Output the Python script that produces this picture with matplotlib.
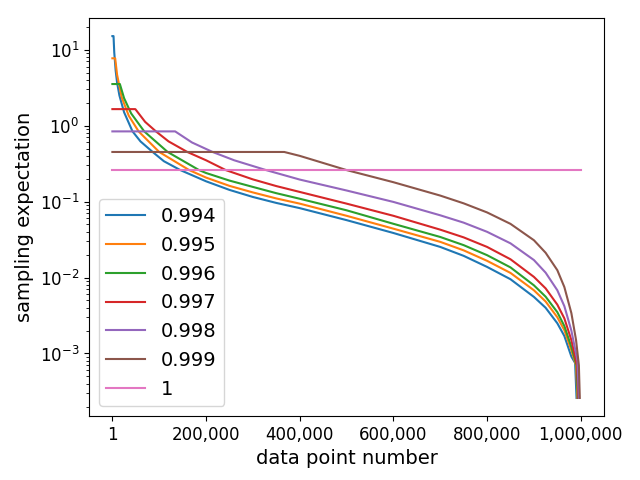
import matplotlib
matplotlib.use('Agg')
import matplotlib.pyplot as plt
from matplotlib.ticker import FuncFormatter

# valores (aproximados)
labels = ['0.994', '0.995', '0.996', '0.997', '0.998', '0.999', '1']

x_0994 = [1, 2450, 4000, 7000, 10000, 15000, 25000, 43000, 60000, 86000, 110000, 145000,
          200000, 250000, 300000, 350000, 400000, 500000, 600000, 700000, 750000, 800000,
          850000, 900000, 925000, 950000, 965000, 980000, 988000, 991000]
y_0994 = [15.1, 15.1, 9.2, 5.3, 3.7, 2.5, 1.5, 0.84, 0.62, 0.45, 0.34, 0.26,
          0.185, 0.1425, 0.115, 0.096, 0.082, 0.057, 0.0386, 0.0253, 0.0193, 0.0138,
          0.0095, 0.00556, 0.0040, 0.0025, 0.0017, 0.00091, 0.00075, 0.00026]

x_0995 = [1, 6000, 10000, 20000, 35000, 56000, 100000, 164000,
          200000, 250000, 300000, 350000, 400000, 500000, 600000, 700000, 750000, 800000,
          850000, 900000, 925000, 950000, 965000, 980000, 990000, 993000]
y_0995 = [7.7, 7.7, 4.7, 2.35, 1.35, 0.84, 0.45, 0.26,
          0.207, 0.161, 0.132, 0.110, 0.094, 0.065, 0.044, 0.0295, 0.0228, 0.0166,
          0.0115, 0.0068, 0.00484, 0.0030, 0.00203, 0.0011, 0.0007, 0.00026]

x_0996 = [1, 16000, 25000, 40000, 68000, 118000, 185000,
          200000, 250000, 300000, 350000, 400000, 500000, 600000, 700000, 750000, 800000,
          850000, 900000, 925000, 950000, 965000, 980000, 991000, 994000]
y_0996 = [3.53, 3.53, 2.3, 1.45, 0.84, 0.45, 0.26,
          0.238, 0.189, 0.156, 0.129, 0.109, 0.0768, 0.051, 0.0342, 0.0267, 0.0197,
          0.0136, 0.0079, 0.0056, 0.0035, 0.0023, 0.00122, 0.0007, 0.00026]

x_0997 = [1, 49000, 70000, 93000, 120000, 160000, 200000, 242000,
          300000, 350000, 400000, 500000, 600000, 700000, 750000, 800000,
          850000, 900000, 925000, 950000, 965000, 980000, 992000, 995000]
y_0997 = [1.65, 1.65, 1.12, 0.84, 0.62, 0.45, 0.35, 0.26,
          0.196, 0.160, 0.134, 0.094, 0.065, 0.0427, 0.0338, 0.0253,
          0.0174, 0.0102, 0.0072, 0.0044, 0.0029, 0.0015, 0.0007, 0.00026]

x_0998 = [1, 134000, 170000, 214000, 260000, 328000, 400000, 500000, 600000, 700000,
          750000, 800000, 850000, 900000, 925000, 950000, 965000, 980000, 993000, 996000]
y_0998 = [0.84, 0.84, 0.6, 0.45, 0.35, 0.26, 0.195, 0.14, 0.099, 0.066,
          0.0528, 0.04, 0.0282, 0.017, 0.0116, 0.0068, 0.0042, 0.002, 0.0008, 0.00026]

x_0999 = [1, 367000, 400000, 500000, 600000, 700000, 750000, 800000, 850000, 900000,
          925000, 950000, 965000, 980000, 990000, 996000, 998000]
y_0999 = [0.45, 0.45, 0.40, 0.26, 0.18, 0.12, 0.0948, 0.072, 0.0509, 0.031,
          0.0212, 0.0125, 0.0075, 0.0034, 0.0015, 0.0007, 0.00026]

x_1 = [1, 1000000]
y_1 = [0.26, 0.26]

xs = [x_0994, x_0995, x_0996, x_0997, x_0998, x_0999, x_1]
ys = [y_0994, y_0995, y_0996, y_0997, y_0998, y_0999, y_1]

fig, ax = plt.subplots(figsize=(6.4, 4.8), dpi=100)
for x, y, lab in zip(xs, ys, labels):
    ax.plot(x, y, label=lab, linewidth=1.5)

ax.set_yscale('log')
ax.set_xticks([1, 200000, 400000, 600000, 800000, 1000000])
ax.xaxis.set_major_formatter(FuncFormatter(lambda v, p: '{:,}'.format(int(v))))
ax.tick_params(axis='both', labelsize=12)
ax.set_xlabel('data point number', fontsize=14)
ax.set_ylabel('sampling expectation', fontsize=14)
ax.legend(loc='lower left', fontsize=14)

fig.subplots_adjust(left=0.139, right=0.944, top=0.9625, bottom=0.1333)
fig.savefig('out.png', dpi=100)
